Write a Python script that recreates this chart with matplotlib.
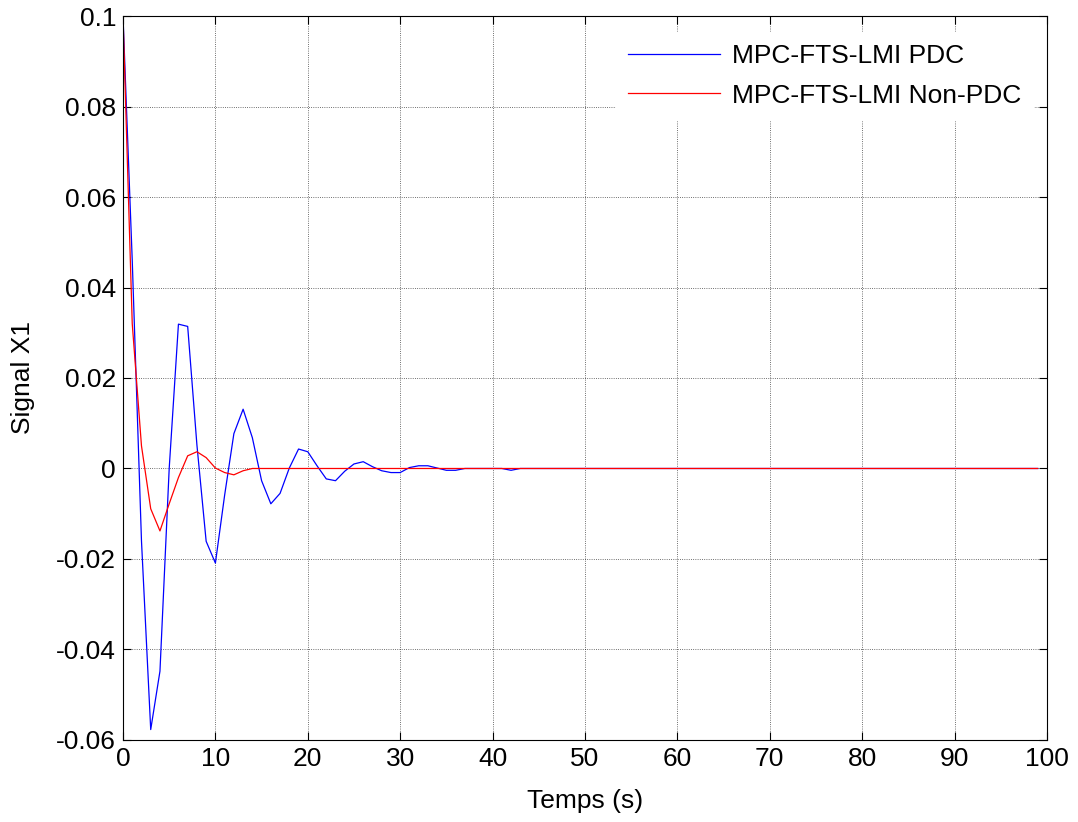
import matplotlib
matplotlib.use('Agg')
import matplotlib.pyplot as plt
from matplotlib.ticker import FuncFormatter

plt.rcParams['font.family'] = ['Liberation Sans', 'DejaVu Sans']
plt.rcParams['axes.unicode_minus'] = False

# 数据
t = list(range(100))
x1_pdc = [0.1, 0.046, -0.016, -0.0577, -0.0448, 0.0, 0.0319, 0.0314, 0.0052, -0.0161,
          -0.0209, -0.0059, 0.0077, 0.0131, 0.0068, -0.0027, -0.0078, -0.0055, 0.0001, 0.0043,
          0.0037, 0.0006, -0.0023, -0.0027, -0.0006, 0.0010, 0.0015, 0.0004, -0.0005, -0.0009,
          -0.0009, 0.0002, 0.0006, 0.0006, 0.0001, -0.0004, -0.0004, 0.0, 0.0, 0.0,
          0.0, 0.0, -0.0004, 0.0, 0.0] + [0.0] * 55
x1_non_pdc = [0.1, 0.032, 0.005, -0.0089, -0.0138, -0.0078, -0.002, 0.0028, 0.0037, 0.0024,
              0.0001, -0.0009, -0.0014, -0.0005, 0.0] + [0.0] * 85
labels = ['MPC-FTS-LMI PDC', 'MPC-FTS-LMI Non-PDC']
yticks = [-0.06, -0.04, -0.02, 0, 0.02, 0.04, 0.06, 0.08, 0.1]
xticks = [0, 10, 20, 30, 40, 50, 60, 70, 80, 90, 100]

fs = 19

fig = plt.figure(figsize=(10.78, 8.22), dpi=100)
ax = fig.add_axes([0.1141, 0.0998, 0.8571, 0.8807])

ax.plot(t, x1_pdc, color='#0000ff', lw=0.9, label=labels[0])
ax.plot(t, x1_non_pdc, color='#ff0000', lw=0.9, label=labels[1])

ax.set_xlim(0, 100)
ax.set_ylim(-0.06, 0.1)
ax.set_xticks(xticks)
ax.set_yticks(yticks)
ax.yaxis.set_major_formatter(FuncFormatter(lambda v, p: '%g' % round(v, 4)))
ax.tick_params(direction='in', top=True, right=True, length=6, width=0.8,
               labelsize=fs, pad=5)
ax.grid(True, color='k', linestyle=':', linewidth=0.6, alpha=0.75)
for s in ax.spines.values():
    s.set_linewidth(0.8)

ax.set_xlabel('Temps (s)', fontsize=fs, labelpad=13)
ax.set_ylabel('Signal X1', fontsize=fs, labelpad=15)

leg = ax.legend(loc='upper right', bbox_to_anchor=(0.985, 0.978), borderaxespad=0,
                fontsize=fs, handlelength=3.5, handletextpad=0.45, labelspacing=0.6,
                borderpad=0.45, frameon=True, fancybox=False, framealpha=1,
                edgecolor='white')

fig.savefig('out.png', dpi=100)
